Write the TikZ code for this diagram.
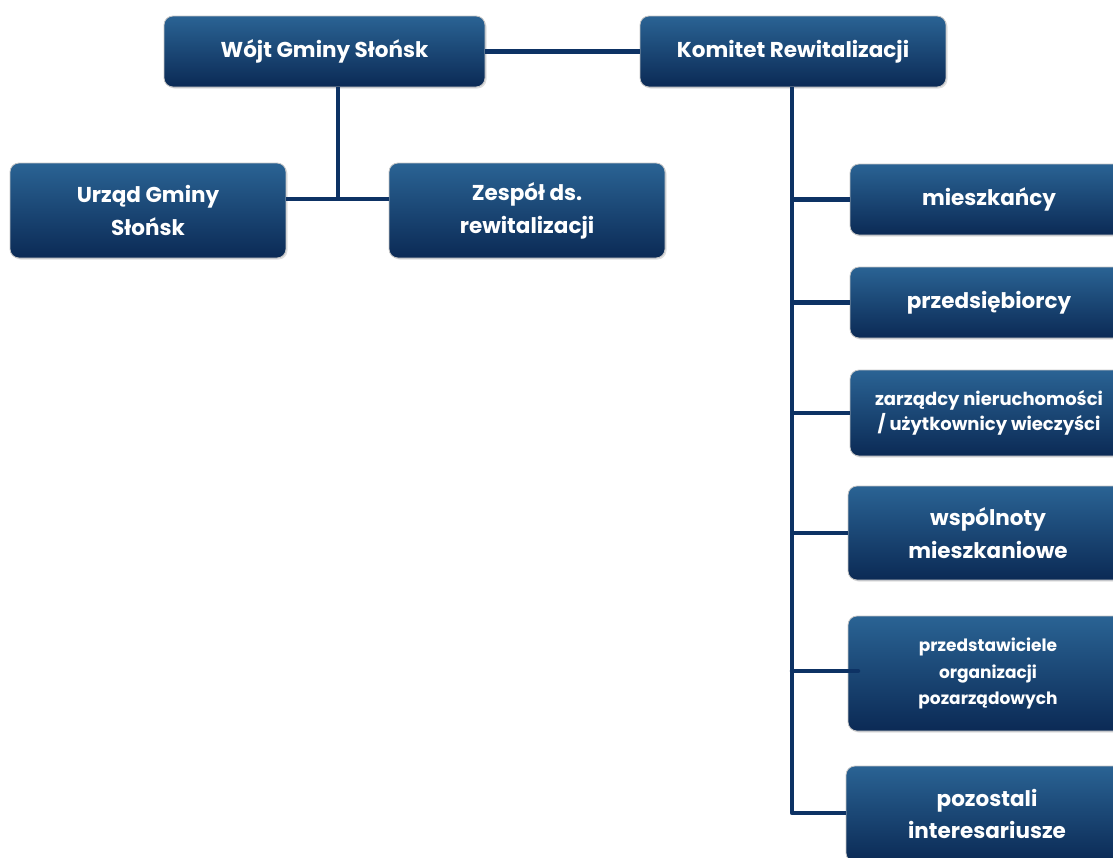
\documentclass[tikz,border=0pt]{standalone}
\usepackage{fontspec}
\setmainfont{Poppins}
\usetikzlibrary{shadows}
\definecolor{boxtop}{HTML}{2A6394}
\definecolor{boxbot}{HTML}{0B2A55}
\definecolor{linecol}{HTML}{0D3264}
\tikzset{
  box/.style={rectangle, rounded corners=9pt, top color=boxtop, bottom color=boxbot,
    draw=gray!45, line width=0.8pt, text=white, font=\bfseries, align=center,
    inner sep=2pt, drop shadow={shadow xshift=1.5pt, shadow yshift=-1.5pt, opacity=0.25}},
  big/.style={font=\bfseries\fontsize{21.5}{33}\selectfont},
  small/.style={font=\bfseries\fontsize{17.5}{26}\selectfont},
  conn/.style={draw=linecol, line width=4.5pt}
}
\begin{document}
\begin{tikzpicture}[x=1pt,y=-1pt]
\useasboundingbox (0,0) rectangle (1113,857);
\begin{scope}
\clip (0,0) rectangle (1113,857);
% top row
\node[box, big, minimum width=321pt, minimum height=71pt] (wojt) at (324.5,51.5) {Wójt Gminy Słońsk};
\node[box, big, minimum width=306pt, minimum height=71pt] (komitet) at (793,51.5) {Komitet Rewitalizacji};
% second row
\node[box, big, minimum width=276pt, minimum height=95pt] (urzad) at (148,210.5) {Urząd Gminy\\Słońsk};
\node[box, big, minimum width=276pt, minimum height=95pt] (zespol) at (527,210.5) {Zespół ds.\\rewitalizacji};
% right column
\node[box, big, minimum width=278pt, minimum height=71pt] (miesz) at (989,199.5) {mieszkańcy};
\node[box, big, minimum width=278pt, minimum height=71pt] (przeds) at (989,302.5) {przedsiębiorcy};
\node[box, small, font=\bfseries\fontsize{18}{25}\selectfont, minimum width=278pt, minimum height=86pt] (zarz) at (989,413) {zarządcy nieruchomości\\/ użytkownicy wieczyści};
\node[box, big, minimum width=280pt, minimum height=94pt] (wspol) at (988,533) {wspólnoty\\mieszkaniowe};
\node[box, small, font=\bfseries\fontsize{17}{26.5}\selectfont, minimum width=280pt, minimum height=115pt] (przedst) at (988,673.5) {przedstawiciele\\organizacji\\pozarządowych};
\node[box, big, font=\bfseries\fontsize{21.5}{32}\selectfont, minimum width=282pt, minimum height=96pt] (pozost) at (987,814) {pozostali\\interesariusze};
\end{scope}
% connectors
\coordinate (j1) at (338,199);
\coordinate (kb) at (792,813);
\coordinate (pend) at (858,671);
\draw[conn] (wojt.east) -- (komitet.west);
\draw[conn] (wojt.south -| j1) -- (j1);
\draw[conn] (urzad.east |- j1) -- (zespol.west |- j1);
\draw[conn, line join=round] (komitet.south -| kb) -- (kb) -- (pozost.west |- kb);
\draw[conn] (kb |- miesz.west) -- (miesz.west);
\draw[conn] (kb |- przeds.west) -- (przeds.west);
\draw[conn] (kb |- zarz.west) -- (zarz.west);
\draw[conn] (kb |- wspol.west) -- (wspol.west);
\draw[conn, line cap=round] (kb |- pend) -- (pend);
\end{tikzpicture}
\end{document}
